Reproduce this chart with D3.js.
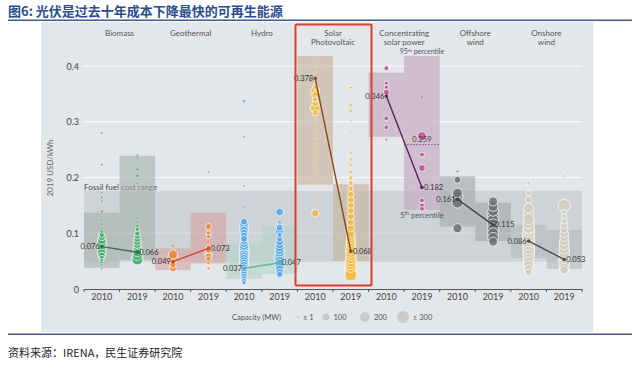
<!DOCTYPE html>
<html><head><meta charset="utf-8">
<script src="https://cdn.jsdelivr.net/npm/d3@7"></script>
<style>
html,body{margin:0;padding:0;background:#fff;}
svg{display:block;}
</style></head>
<body>
<svg id="c" width="640" height="367"></svg>
<script>
// ---------- DATA ----------
const categoryLines = [["Biomass"],["Geothermal"],["Hydro"],["Solar","Photovoltaic"],["Concentrating","solar power"],["Offshore","wind"],["Onshore","wind"]];
const years = ["2010","2019"];
const avg2010 = [0.076,0.049,0.037,0.378,0.346,0.161,0.086];
const avg2019 = [0.066,0.073,0.047,0.068,0.182,0.115,0.053];
const p5_2010  = [0.038,0.034,0.018,0.187,0.273,0.112,0.056];
const p95_2010 = [0.137,0.073,0.082,0.418,0.388,0.202,0.115];
const p5_2019  = [0.052,0.046,0.027,0.050,0.142,0.086,0.036];
const p95_2019 = [0.239,0.137,0.112,0.188,0.418,0.155,0.106];
const fossilRange = [0.049,0.176];
const cspMarker = 0.259;
const yTicks = [0,0.1,0.2,0.3,0.4];
const legendCaps = [1,100,200,300];
const legendLabels = ["≤ 1","100","200","≥ 300"];

// bubbles: [LCOE USD/kWh, capacity MW]
const biomass2010 = [[0.28,1],[0.223,2],[0.173,2],[0.164,2],[0.157,2],[0.139,15],[0.13,8],[0.124,5],[0.116,3],[0.108,10],[0.103,20],[0.097,60],[0.093,100],[0.088,140],[0.084,170],[0.08,190],[0.076,200],[0.072,180],[0.068,160],[0.064,140],[0.06,100],[0.056,60],[0.052,30],[0.048,15],[0.043,8],[0.037,5]];
const biomass2019 = [[0.24,8],[0.236,3],[0.215,15],[0.203,20],[0.19,2],[0.127,8],[0.12,10],[0.113,20],[0.107,40],[0.1,60],[0.095,80],[0.09,100],[0.085,120],[0.08,130],[0.075,150],[0.07,150],[0.065,140],[0.06,200],[0.055,300],[0.053,250]];
const geothermal2010 = [[0.077,20],[0.062,170],[0.057,200],[0.048,80],[0.043,80],[0.037,100]];
const geothermal2019 = [[0.21,5],[0.112,80],[0.1,50],[0.094,40],[0.085,20],[0.075,40],[0.07,80],[0.066,100],[0.062,110],[0.058,100],[0.054,60],[0.047,20],[0.037,25]];
const hydro2010 = [[0.337,20],[0.273,2],[0.185,10],[0.147,5],[0.121,100],[0.116,150],[0.11,170],[0.105,150],[0.1,130],[0.095,120],[0.09,100],[0.086,120],[0.082,150],[0.078,180],[0.074,190],[0.07,200],[0.066,200],[0.062,190],[0.058,180],[0.054,170],[0.05,160],[0.046,150],[0.042,140],[0.038,130],[0.034,120],[0.03,110],[0.026,100],[0.022,90],[0.018,80],[0.014,70],[0.011,40]];
const hydro2019 = [[0.138,130],[0.12,20],[0.11,100],[0.104,150],[0.097,60],[0.09,80],[0.085,120],[0.08,150],[0.075,170],[0.07,180],[0.065,190],[0.06,200],[0.055,200],[0.05,190],[0.045,180],[0.04,170],[0.035,150],[0.03,120],[0.026,80]];
const solar2010 = [[0.41,3],[0.4,3],[0.39,4],[0.38,5],[0.37,8],[0.362,60],[0.355,170],[0.348,100],[0.34,60],[0.333,90],[0.325,200],[0.316,80],[0.305,5],[0.295,4],[0.28,6],[0.27,3],[0.259,15],[0.25,4],[0.237,5],[0.228,3],[0.219,4],[0.205,2],[0.19,3],[0.172,3],[0.156,3],[0.136,120]];
const solar2019 = [[0.361,25],[0.33,20],[0.32,20],[0.302,8],[0.283,1],[0.244,25],[0.232,15],[0.223,20],[0.21,20],[0.199,40],[0.19,50],[0.18,60],[0.17,80],[0.16,90],[0.15,100],[0.14,90],[0.13,100],[0.12,110],[0.11,120],[0.1,140],[0.095,150],[0.09,160],[0.085,170],[0.08,180],[0.075,190],[0.07,200],[0.065,210],[0.06,220],[0.055,240],[0.05,260],[0.045,270],[0.04,280],[0.035,300],[0.03,300],[0.025,300]];
const csp2010 = [[0.396,50],[0.369,35],[0.362,35],[0.353,75],[0.306,50],[0.29,50],[0.268,3]];
const csp2019 = [[0.344,2],[0.274,170],[0.241,50],[0.217,100],[0.159,50],[0.15,50],[0.144,50]];
const offshore2010 = [[0.211,2],[0.196,100],[0.172,200],[0.166,250],[0.155,250],[0.109,170]];
const offshore2019 = [[0.157,170],[0.148,200],[0.14,230],[0.132,250],[0.124,250],[0.116,250],[0.108,250],[0.1,250],[0.092,230],[0.085,170]];
const onshore2010 = [[0.19,50],[0.172,50],[0.16,100],[0.145,200],[0.135,250],[0.125,250],[0.118,260],[0.11,280],[0.103,300],[0.096,300],[0.09,300],[0.084,300],[0.078,300],[0.072,300],[0.066,300],[0.06,280],[0.054,260],[0.048,240],[0.042,200],[0.036,150],[0.03,100],[0.015,1]];
const onshore2019 = [[0.203,30],[0.15,300],[0.138,60],[0.13,50],[0.122,80],[0.115,100],[0.107,120],[0.1,150],[0.093,160],[0.086,180],[0.079,200],[0.072,220],[0.065,240],[0.058,250],[0.051,260],[0.044,240],[0.038,200],[0.034,150]];
const bubbles2010 = [biomass2010,geothermal2010,hydro2010,solar2010,csp2010,offshore2010,onshore2010];
const bubbles2019 = [biomass2019,geothermal2019,hydro2019,solar2019,csp2019,offshore2019,onshore2019];

// ---------- STYLE ----------
const dotColors  = ["#45ad70","#e8893c","#58a8e8","#f0ba45","#c0508e","#6b6f72","#d2cebe"];
const lineColors = ["#3d6e57","#d8412f","#5cb79c","#8b4a1c","#5e2457","#3e4245","#4a4d50"];
const boxColors  = ["#a5b3ae","#d5a4a8","#b2d4c6","#c8b3a0","#c2a8c2","#a0a6aa","#b0b6b9"];
const boxOpacity = [0.6,0.65,0.6,0.65,0.65,0.6,0.55];

const svg = d3.select("#c");
const FONT = "Lato, 'Open Sans', sans-serif";
const CJK = "'Noto Sans CJK SC', sans-serif";

// title & rules
svg.append("text").attr("x",8).attr("y",16).attr("font-family",CJK).attr("font-weight",700)
  .attr("font-size",13).attr("fill","#2b4d8c").text("图6: 光伏是过去十年成本下降最快的可再生能源");
svg.append("rect").attr("x",8).attr("y",19.5).attr("width",624).attr("height",1.5).attr("fill","#3c5a92");
svg.append("rect").attr("x",41).attr("y",22).attr("width",552).attr("height",310).attr("fill","#e4e7ea");
svg.append("rect").attr("x",8).attr("y",333.5).attr("width",624).attr("height",1.5).attr("fill","#3c5a92");
svg.append("text").attr("x",8).attr("y",357).attr("font-family",CJK).attr("font-size",11)
  .attr("fill","#222").text("资料来源：IRENA，民生证券研究院");

// scales
const cols = [];
categoryLines.forEach((c,i)=>years.forEach(y=>cols.push(i+"-"+y)));
const x = d3.scaleBand().domain(cols).range([84,582]).padding(0);
const y = d3.scaleLinear().domain([0,0.4]).range([289,66]);
const r = d => Math.max(1.1, 6*Math.sqrt(Math.min(d,300)/300));
const cx = (i,yr) => x(i+"-"+yr) + x.bandwidth()/2;

// gridlines
svg.append("g").selectAll("line").data(yTicks.filter(t=>t>0)).join("line")
  .attr("x1",84).attr("x2",582).attr("y1",d=>y(d)).attr("y2",d=>y(d))
  .attr("stroke","#ffffff").attr("stroke-width",1.2).attr("opacity",0.9);

// fossil fuel band
svg.append("rect").attr("x",84).attr("width",582-84)
  .attr("y",y(fossilRange[1])).attr("height",y(fossilRange[0])-y(fossilRange[1]))
  .attr("fill","#a9b0b5").attr("opacity",0.35);
svg.append("text").attr("x",84).attr("y",y(fossilRange[1])-1).attr("font-family",FONT)
  .attr("font-size",8).attr("fill","#444").text("Fossil fuel cost range");

// percentile boxes
const boxes = [];
categoryLines.forEach((c,i)=>{
  boxes.push({i, yr:"2010", lo:p5_2010[i], hi:p95_2010[i]});
  boxes.push({i, yr:"2019", lo:p5_2019[i], hi:p95_2019[i]});
});
svg.append("g").selectAll("rect").data(boxes).join("rect")
  .attr("x",d=>x(d.i+"-"+d.yr)).attr("width",x.bandwidth())
  .attr("y",d=>y(d.hi)).attr("height",d=>y(d.lo)-y(d.hi))
  .attr("fill",d=>boxColors[d.i]).attr("opacity",d=>boxOpacity[d.i]);

// bubbles
const bub = [];
categoryLines.forEach((c,i)=>{
  bubbles2010[i].forEach(b=>bub.push({i,yr:"2010",v:b[0],cap:b[1]}));
  bubbles2019[i].forEach(b=>bub.push({i,yr:"2019",v:b[0],cap:b[1]}));
});
bub.sort((a,b)=>b.cap-a.cap);
svg.append("g").selectAll("circle").data(bub).join("circle")
  .attr("cx",d=>cx(d.i,d.yr)).attr("cy",d=>y(d.v)).attr("r",d=>r(d.cap))
  .attr("fill",d=>dotColors[d.i]).attr("fill-opacity",0.85)
  .attr("stroke","#ffffff").attr("stroke-width",d=>d.cap>20?0.8:0.3).attr("stroke-opacity",0.9);

// CSP dotted marker
svg.append("line").attr("x1",x("4-2019")).attr("x2",x("4-2019")+x.bandwidth())
  .attr("y1",y(cspMarker)).attr("y2",y(cspMarker))
  .attr("stroke","#8a4a85").attr("stroke-width",1).attr("stroke-dasharray","1.5,1.5");
svg.append("text").attr("x",cx(4,"2019")).attr("y",y(cspMarker)-3).attr("text-anchor","middle")
  .attr("font-family",FONT).attr("font-size",7.5).attr("fill","#444").text(cspMarker.toFixed(3));

// percentile labels
const p95 = svg.append("text").attr("x",cx(4,"2019")).attr("y",y(p95_2019[4])-1.5).attr("text-anchor","middle")
  .attr("font-family",FONT).attr("font-size",7).attr("fill","#555");
p95.append("tspan").text("95");
p95.append("tspan").attr("font-size",4.5).attr("dy",-2.5).text("th");
p95.append("tspan").attr("dy",2.5).text(" percentile");
const p5 = svg.append("text").attr("x",cx(4,"2019")).attr("y",y(p5_2019[4])+8).attr("text-anchor","middle")
  .attr("font-family",FONT).attr("font-size",7.5).attr("fill","#555");
p5.append("tspan").text("5");
p5.append("tspan").attr("font-size",5).attr("dy",-3).text("th");
p5.append("tspan").attr("dy",3).text(" percentile");

// average lines
categoryLines.forEach((c,i)=>{
  const g = svg.append("g");
  const pts = [[cx(i,"2010"),y(avg2010[i])],[cx(i,"2019"),y(avg2019[i])]];
  g.append("path").attr("d",d3.line()(pts)).attr("stroke",lineColors[i]).attr("stroke-width",1.4).attr("fill","none");
  g.selectAll("circle").data(pts).join("circle").attr("cx",d=>d[0]).attr("cy",d=>d[1]).attr("r",1.8).attr("fill",lineColors[i]);
  g.append("text").attr("x",pts[0][0]-2).attr("y",pts[0][1]+2.5).attr("text-anchor","end")
    .attr("font-family",FONT).attr("font-size",7.5).attr("fill","#333").text(avg2010[i].toFixed(3));
  g.append("text").attr("x",pts[1][0]+2).attr("y",pts[1][1]+2.5).attr("text-anchor","start")
    .attr("font-family",FONT).attr("font-size",7.5).attr("fill","#333").text(avg2019[i].toFixed(3));
});

// category headers
categoryLines.forEach((lines,i)=>{
  const mx = (cx(i,"2010")+cx(i,"2019"))/2;
  lines.forEach((t,k)=>svg.append("text").attr("x",mx).attr("y",35.5+k*9).attr("text-anchor","middle")
    .attr("font-family",FONT).attr("font-size",8).attr("fill","#555").text(t));
});

// y axis labels
svg.append("g").selectAll("text").data(yTicks).join("text")
  .attr("x",79).attr("y",d=>y(d)+3.5).attr("text-anchor","end")
  .attr("font-family",FONT).attr("font-size",9).attr("fill","#444").text(d=>d===0?"0":d.toFixed(1));
svg.append("text").attr("transform","translate(53,168) rotate(-90)").attr("text-anchor","middle")
  .attr("font-family",FONT).attr("font-size",8).attr("fill","#666").text("2019 USD/kWh");

// x axis
const xAxis = d3.axisBottom(x).tickSize(0).tickFormat(d=>d.split("-")[1]);
const ga = svg.append("g").attr("transform","translate(0,289)").call(xAxis);
ga.select(".domain").attr("stroke","#555").attr("stroke-width",1.2);
ga.selectAll("text").attr("font-family",FONT).attr("font-size",9).attr("fill","#444").attr("dy","0.9em").attr("y",3);
svg.append("g").selectAll("line").data(d3.range(15)).join("line")
  .attr("x1",d=>84+d*x.bandwidth()).attr("x2",d=>84+d*x.bandwidth())
  .attr("y1",289).attr("y2",292).attr("stroke","#555").attr("stroke-width",1);

// legend
svg.append("text").attr("x",232).attr("y",320).attr("font-family",FONT).attr("font-size",7.5)
  .attr("fill","#555").text("Capacity (MW)");
const lx = [298,326,365,403];
const lg = svg.append("g").selectAll("g").data(legendCaps).join("g");
lg.append("circle").attr("cx",(d,k)=>lx[k]).attr("cy",317).attr("r",d=>r(d)).attr("fill","#c9cacc");
lg.append("text").attr("x",(d,k)=>lx[k]+r(d)+4).attr("y",320).attr("font-family",FONT).attr("font-size",7.5)
  .attr("fill","#555").text((d,k)=>legendLabels[k]);

// highlight box around solar PV
svg.append("rect").attr("x",295.5).attr("y",24.5).attr("width",76).attr("height",261)
  .attr("fill","none").attr("stroke","#d9412e").attr("stroke-width",2).attr("rx",1);
</script>
</body></html>
